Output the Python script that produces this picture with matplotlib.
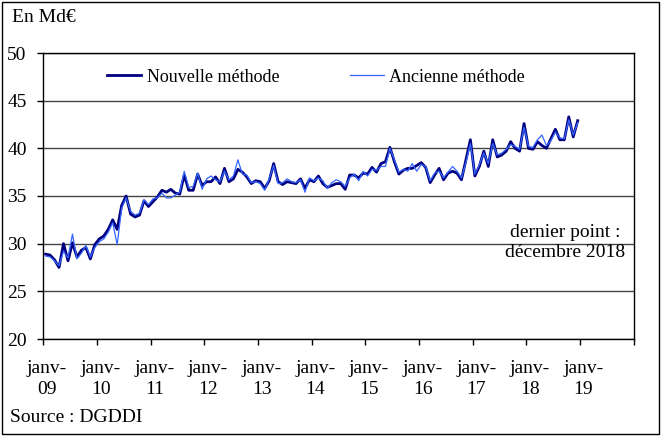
import numpy as np
import matplotlib
matplotlib.use('Agg')
from matplotlib import pyplot as plt
from matplotlib.patches import Rectangle

# Recettes mensuelles (Md€), janvier 2009 - décembre 2018
nouvelle = [28.9, 28.8, 28.3, 27.5, 30.0, 28.2, 30.1, 28.6, 29.3, 29.6, 28.4, 29.9,
            30.5, 30.8, 31.5, 32.5, 31.5, 34.0, 35.0, 33.1, 32.8, 33.0, 34.5, 33.9,
            34.4, 34.9, 35.6, 35.4, 35.7, 35.3, 35.2, 37.2, 35.6, 35.6, 37.3, 36.1,
            36.5, 36.5, 37.0, 36.3, 37.9, 36.5, 36.8, 37.8, 37.5, 37.0, 36.3, 36.6,
            36.5, 35.8, 36.6, 38.4, 36.5, 36.2, 36.5, 36.4, 36.3, 36.8, 35.8, 36.7,
            36.5, 37.1, 36.3, 35.9, 36.1, 36.3, 36.3, 35.7, 37.2, 37.2, 36.9, 37.4,
            37.3, 38.0, 37.5, 38.4, 38.6, 40.1, 38.6, 37.3, 37.7, 37.9, 37.9, 38.2,
            38.5, 38.0, 36.4, 37.2, 37.9, 36.7, 37.4, 37.6, 37.4, 36.7, 38.8, 40.9,
            37.1, 38.1, 39.7, 38.1, 40.9, 39.1, 39.3, 39.7, 40.7, 40.0, 39.7, 42.6,
            40.0, 39.9, 40.7, 40.3, 40.0, 41.0, 42.0, 40.9, 40.9, 43.3, 41.2, 42.9]

ancienne = [28.7, 28.6, 28.2, 27.7, 29.2, 28.5, 31.0, 28.4, 29.0, 29.8, 28.6, 29.6,
            30.2, 30.5, 31.2, 32.2, 29.9, 33.7, 34.8, 33.4, 33.0, 33.2, 34.6, 34.1,
            34.7, 34.8, 35.3, 34.8, 34.8, 35.1, 35.4, 37.6, 35.9, 36.0, 37.4, 35.7,
            36.8, 37.1, 36.7, 36.5, 37.6, 36.7, 37.1, 38.8, 37.3, 37.2, 36.4, 36.5,
            36.3, 35.6, 36.8, 38.2, 36.3, 36.4, 36.8, 36.5, 36.4, 36.7, 35.4, 36.9,
            36.6, 36.9, 36.6, 35.8, 36.4, 36.7, 36.5, 36.0, 36.9, 37.3, 36.6, 37.6,
            37.1, 37.8, 37.7, 38.1, 38.1, 40.0, 38.8, 37.5, 37.8, 37.6, 38.4, 37.6,
            38.3, 38.1, 36.6, 37.4, 37.6, 36.9, 37.5, 38.1, 37.6, 36.9, 38.5, 40.5,
            37.3, 38.3, 39.5, 38.4, 40.5, 39.3, 39.5, 39.9, 40.4, 40.2, 39.9, 42.2,
            40.2, 40.1, 40.9, 41.4, 40.3, 40.8, 41.7, 41.1, 41.0, 43.0, 41.4, 42.7]

annees = ['09', '10', '11', '12', '13', '14', '15', '16', '17', '18', '19']

W, H = 661, 436
plt.rcParams['font.family'] = ['Liberation Serif', 'DejaVu Serif']
plt.rcParams['font.size'] = 14


def px(x, y):
    # pixels (origine en haut à gauche) -> coordonnées figure
    return x / W, 1 - y / H


fig = plt.figure(figsize=(W / 100, H / 100), dpi=100)
x0, y1 = px(43.4, 339)
x1, y0 = px(633.6, 53)
ax = fig.add_axes([x0, y1, x1 - x0, y0 - y1])

mois = np.arange(len(nouvelle))
ax.plot(mois, nouvelle, color='#000080', lw=2.0, label='Nouvelle méthode', zorder=3)
ax.plot(mois, ancienne, color='#3366FF', lw=0.9, label='Ancienne méthode', zorder=4)

ax.set_xlim(-0.5, 131.5)
ax.set_ylim(20, 50)
ax.set_yticks(range(20, 51, 5))
ax.yaxis.grid(True, color='#444444', lw=1)
ax.set_axisbelow(True)

# graduations entre les années, libellés en janvier
ax.set_xticks(np.arange(-0.5, 132, 12))
ax.set_xticklabels([])
ax.set_xticks(np.arange(0, 12 * len(annees), 12) + 0.3, minor=True)
ax.set_xticklabels([f'janv-\n{a}' for a in annees], minor=True, linespacing=1.3)
ax.tick_params(axis='x', which='minor', length=0, pad=15)
ax.tick_params(axis='both', which='major', direction='out', length=4, width=1)
ax.tick_params(axis='y', pad=8)
for s in ax.spines.values():
    s.set_linewidth(1)
    s.set_color('black')

ax.legend(loc='center left', bbox_to_anchor=px(107, 77), bbox_transform=fig.transFigure,
          ncol=2, frameon=False, handlelength=1.9, handletextpad=0.3,
          columnspacing=3.9, borderpad=0, borderaxespad=0, fontsize=13)

fig.text(*px(12, 17), 'En Md€', va='center')
fig.text(*px(565, 242.5), 'dernier point :\ndécembre 2018', ha='center', va='center',
         linespacing=1.25)
fig.text(*px(10, 417), 'Source : DGDDI', va='center')

fig.add_artist(Rectangle(px(2, 434), (W - 4) / W, (H - 4) / H, transform=fig.transFigure,
                         fill=False, lw=1, ec='black'))

fig.savefig('out.png', dpi=100)
